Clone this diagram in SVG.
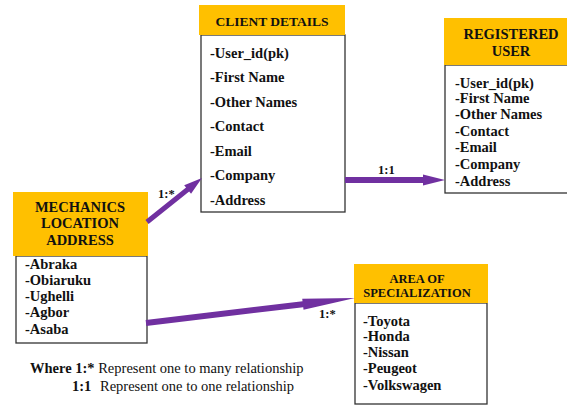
<svg xmlns="http://www.w3.org/2000/svg" width="567" height="406" viewBox="0 0 567 406">
<style>
.hdr{fill:#FFC000;}
.body{fill:#fff;stroke:#333;stroke-width:1.3;}
.t{font-family:"Liberation Serif","Times New Roman",serif;font-weight:bold;font-size:14.5px;fill:#111;}
.h{font-family:"Liberation Serif","Times New Roman",serif;font-weight:bold;font-size:14.5px;fill:#111;text-anchor:middle;}
.lbl{font-family:"Liberation Serif","Times New Roman",serif;font-weight:bold;font-size:12.5px;fill:#111;}
.leg{font-family:"Liberation Serif","Times New Roman",serif;font-size:14.5px;fill:#111;}
.arrow{fill:#7030A0;}
</style>
<rect width="567" height="406" fill="#fff"/>
<g id="client-details">
<rect class="body" x="201" y="35" width="144" height="177"/>
<rect class="hdr" x="199" y="5" width="146" height="30"/>
<text class="h" x="272" y="26" style="font-size:13.5px">CLIENT DETAILS</text>
<text class="t" x="210" y="58">-User_id(pk)</text>
<text class="t" x="210" y="82">-First Name</text>
<text class="t" x="210" y="107">-Other Names</text>
<text class="t" x="210" y="131">-Contact</text>
<text class="t" x="210" y="156">-Email</text>
<text class="t" x="210" y="180">-Company</text>
<text class="t" x="210" y="205">-Address</text>
</g>
<g id="registered-user">
<rect class="body" x="445" y="65" width="125" height="128"/>
<rect class="hdr" x="444" y="18" width="123" height="47"/>
<text class="h" x="511" y="39">REGISTERED</text>
<text class="h" x="511" y="56">USER</text>
<text class="t" x="455" y="88">-User_id(pk)</text>
<text class="t" x="455" y="103">-First Name</text>
<text class="t" x="455" y="119">-Other Names</text>
<text class="t" x="455" y="136">-Contact</text>
<text class="t" x="455" y="152">-Email</text>
<text class="t" x="455" y="169">-Company</text>
<text class="t" x="455" y="186">-Address</text>
</g>
<g id="mechanics-location">
<rect class="body" x="16" y="256" width="131" height="87"/>
<rect class="hdr" x="13" y="192" width="135" height="64"/>
<text class="h" x="80" y="212">MECHANICS</text>
<text class="h" x="80" y="228">LOCATION</text>
<text class="h" x="80" y="245">ADDRESS</text>
<text class="t" x="25" y="269">-Abraka</text>
<text class="t" x="25" y="285">-Obiaruku</text>
<text class="t" x="25" y="301">-Ughelli</text>
<text class="t" x="25" y="317">-Agbor</text>
<text class="t" x="25" y="334">-Asaba</text>
</g>
<g id="area-of-specialization">
<rect class="body" x="355" y="303" width="132" height="101"/>
<rect class="hdr" x="354" y="264" width="134" height="39"/>
<text class="h" x="417" y="283" style="font-size:12.5px">AREA OF</text>
<text class="h" x="417" y="297" style="font-size:12.5px">SPECIALIZATION</text>
<text class="t" x="363" y="326">-Toyota</text>
<text class="t" x="363" y="341">-Honda</text>
<text class="t" x="363" y="357">-Nissan</text>
<text class="t" x="363" y="373">-Peugeot</text>
<text class="t" x="363" y="390">-Volkswagen</text>
</g>
<g id="connectors">
<path class="arrow" transform="translate(147,222) rotate(-38.66)" d="M0,-2.5 L52,-2.5 L52,-5.5 L70.4,0 L52,5.5 L52,2.5 L0,2.5 Z"/>
<path class="arrow" transform="translate(345,180)" d="M0,-3 L78,-3 L78,-5.5 L100,0 L78,5.5 L78,3 L0,3 Z"/>
<path class="arrow" transform="translate(146,323) rotate(-6.82)" d="M0,-3 L158,-3 L158,-5.5 L210.5,0 L158,5.5 L158,3 L0,3 Z"/>
<text class="lbl" x="158" y="198">1:*</text>
<text class="lbl" x="378" y="174">1:1</text>
<text class="lbl" x="319" y="318">1:*</text>
</g>
<g id="legend">
<text class="leg" x="30" y="373"><tspan font-weight="bold">Where 1:*</tspan> Represent one to many relationship</text>
<text class="leg" x="72" y="391"><tspan font-weight="bold">1:1</tspan><tspan x="100">Represent one to one relationship</tspan></text>
</g>
</svg>
